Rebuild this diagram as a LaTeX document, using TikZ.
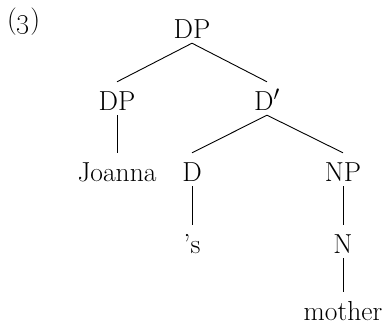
\documentclass[tikz,border=0pt]{standalone}
\begin{document}
\begin{tikzpicture}[x=1pt,y=-1pt,
  lab/.style={anchor=base,font=\fontsize{27.5}{33}\selectfont,text height=23pt,text depth=0pt,inner xsep=0pt,inner ysep=5pt},
  edge/.style={line width=0.9pt}]
\useasboundingbox (0,0) rectangle (387,324);
\node[anchor=base west,inner sep=0pt,font=\fontsize{27.5}{33}\selectfont] (ex) at (7,28) {(\oldstylenums{3})};
\node[lab] (root) at (192,38) {DP};
\node[lab] (dpl) at (117,110) {DP};
\node[lab] (dbar) at (267,110) {D$'$};
\node[lab] (joanna) at (117,181) {Joanna};
\node[lab] (d) at (192,181) {D};
\node[lab] (np) at (343,181) {NP};
\node[lab] (s) at (192,253) {’s};
\node[lab] (n) at (343,253) {N};
\node[lab] (mother) at (343,320) {mother};
\draw[edge] (root.south) -- (dpl.north);
\draw[edge] (root.south) -- (dbar.north);
\draw[edge] (dpl.south) -- (joanna.north);
\draw[edge] (dbar.south) -- (d.north);
\draw[edge] (dbar.south) -- (np.north);
\draw[edge] (d.south) -- (s.north);
\draw[edge] (np.south) -- (n.north);
\draw[edge] (n.south) -- (mother.north);
\end{tikzpicture}
\end{document}
